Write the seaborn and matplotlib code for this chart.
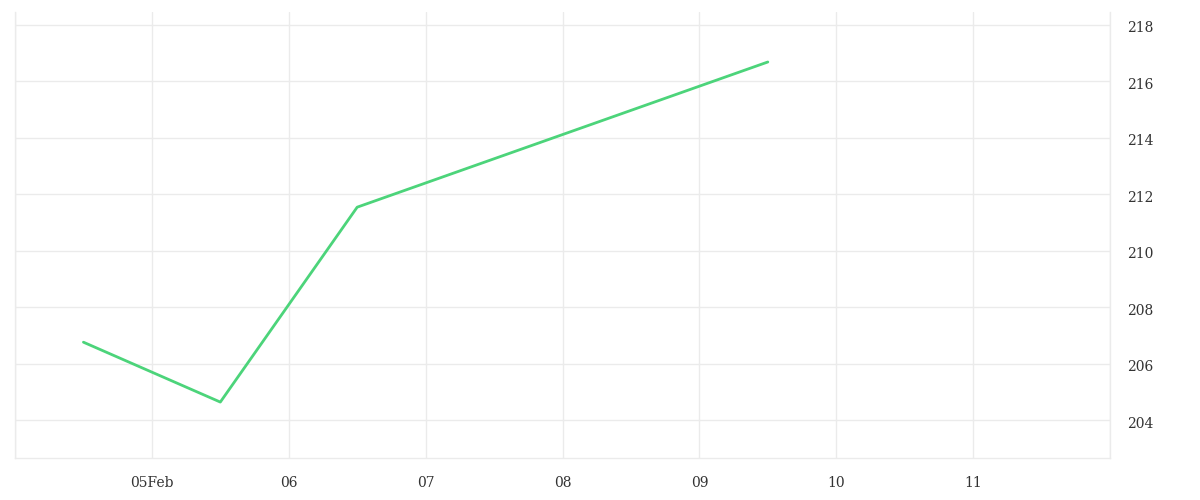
import pandas as pd
import numpy as np
import matplotlib.pyplot as plt
import matplotlib.transforms as mtransforms
import seaborn as sns

# data
times = ["2024-02-04 12:00", "2024-02-05 12:00", "2024-02-06 12:00", "2024-02-09 12:00"]
values = [206.77, 204.65, 211.55, 216.69]
tick_days = ["2024-02-04", "2024-02-05", "2024-02-06", "2024-02-07", "2024-02-08",
             "2024-02-09", "2024-02-10", "2024-02-11", "2024-02-12"]
tick_labels = ["", "05Feb", "06", "07", "08", "09", "10", "11", ""]
y_ticks = [204, 206, 208, 210, 212, 214, 216, 218]

df = pd.DataFrame({"time": pd.to_datetime(times), "value": values})

sns.set_theme(style="white")
plt.rcParams['font.family'] = ['DejaVu Serif', 'DejaVu Sans']

fig = plt.figure(figsize=(12, 5), dpi=100)
ax = fig.add_axes([0.0125, 0.084, 0.9125, 0.892])

sns.lineplot(data=df, x="time", y="value", ax=ax, color="#4cd47a", linewidth=2.0)

grid_c = "#ebebeb"
ax.set_xlim(pd.Timestamp(tick_days[0]), pd.Timestamp(tick_days[-1]))
ax.set_ylim(202.67, 218.46)
ax.set_xticks(pd.to_datetime(tick_days))
ax.set_xticklabels(tick_labels)
ax.set_yticks(y_ticks)
ax.set_yticklabels([str(v) for v in y_ticks])
ax.yaxis.tick_right()

ax.grid(True, color=grid_c, linewidth=1)
ax.tick_params(axis="x", length=7, width=1, color=grid_c, pad=6, labelsize=10, labelcolor="#333333")
ax.tick_params(axis="y", length=0, pad=12, labelsize=10, labelcolor="#333333")

# nudge y labels down a little, as in the reference
shift = mtransforms.ScaledTranslation(0, -2 / 100, fig.dpi_scale_trans)
for lab in ax.get_yticklabels():
    lab.set_transform(lab.get_transform() + shift)

for side in ["left", "right", "bottom"]:
    ax.spines[side].set_color(grid_c)
    ax.spines[side].set_linewidth(1)
ax.spines["top"].set_visible(False)

ax.set_xlabel("")
ax.set_ylabel("")

plt.savefig("out.png", dpi=100)
